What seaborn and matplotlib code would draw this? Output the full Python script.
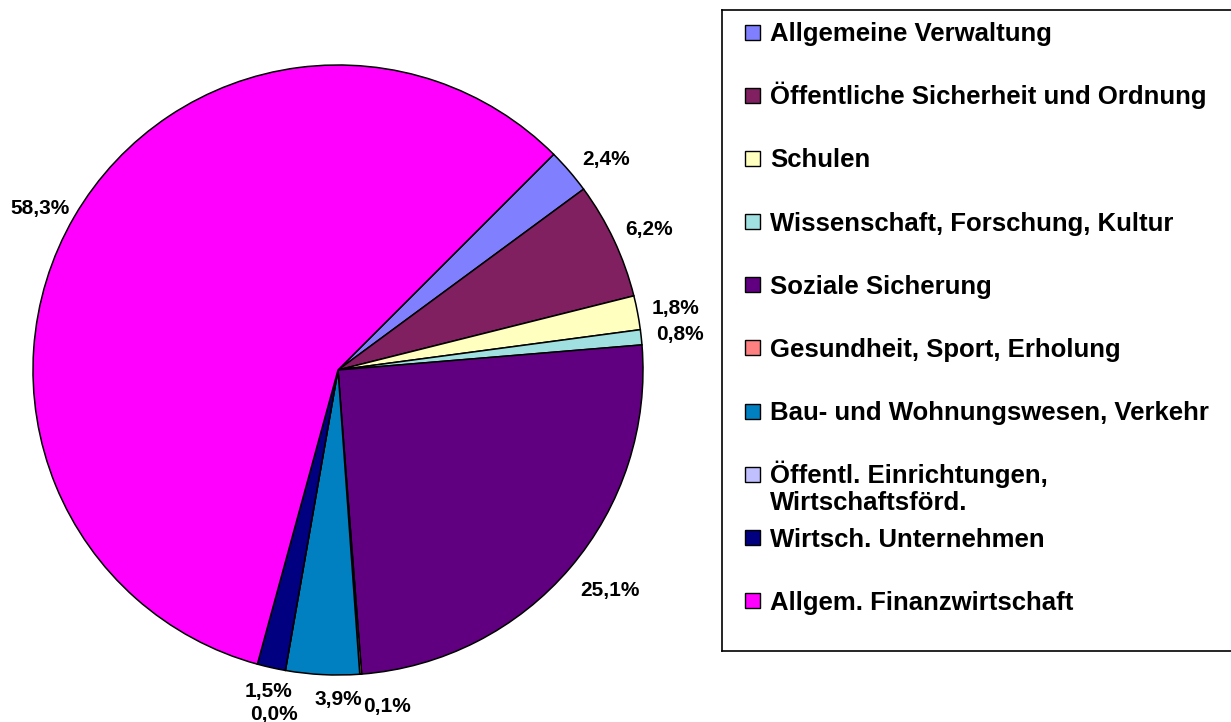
import matplotlib
matplotlib.use("Agg")
import numpy as np
import matplotlib.pyplot as plt
import seaborn as sns
from matplotlib.patches import Rectangle

# Haushaltsanteile nach Aufgabenbereichen (in %)
categories = [
    "Allgemeine Verwaltung",
    "Öffentliche Sicherheit und Ordnung",
    "Schulen",
    "Wissenschaft, Forschung, Kultur",
    "Soziale Sicherung",
    "Gesundheit, Sport, Erholung",
    "Bau- und Wohnungswesen, Verkehr",
    "Öffentl. Einrichtungen,\nWirtschaftsförd.",
    "Wirtsch. Unternehmen",
    "Allgem. Finanzwirtschaft",
]
shares = [2.4, 6.2, 1.8, 0.8, 25.1, 0.1, 3.9, 0.0, 1.5, 58.3]
colors = ["#8080FF", "#802060", "#FFFFC0", "#A0E0E0", "#600080",
          "#FF8080", "#0080C0", "#C0C0FF", "#000080", "#FF00FF"]
pct_labels = [f"{v:.1f}%".replace(".", ",") for v in shares]

sns.set_style("white")
plt.rcParams["font.family"] = ["Liberation Sans", "DejaVu Sans"]
plt.rcParams["text.color"] = "black"

W, H = 1231, 722
fig = plt.figure(figsize=(W / 100, H / 100), dpi=100)

# Kreisdiagramm
cx, cy, r = 338, 370, 305
ax = fig.add_axes([(cx - r) / W, (H - cy - r) / H, 2 * r / W, 2 * r / H])
wedges, texts = ax.pie(
    shares, labels=pct_labels, colors=colors, startangle=45, counterclock=False,
    labeldistance=1.1, wedgeprops=dict(edgecolor="black", linewidth=1.1),
    textprops=dict(fontsize=15, fontweight="bold", color="black"),
)
ax.set_xlim(-1, 1)
ax.set_ylim(-1, 1)
ax.set_aspect("equal")
ax.axis("off")

# Beschriftungen wie in Excel: Textkasten mit festem Abstand zum Kreisrand
fig.canvas.draw()
renderer = fig.canvas.get_renderer()
gap = 15 / r
for w, t in zip(wedges, texts):
    t.set_ha("center")
    t.set_va("center")
    bb = t.get_window_extent(renderer)
    tw, th = bb.width / r, bb.height / r
    a = np.deg2rad((w.theta1 + w.theta2) / 2)
    t.set_position(((1 + gap) * np.cos(a) + tw / 2 * np.cos(a),
                    (1 + gap) * np.sin(a) + th / 2 * np.sin(a)))

# kleine Segmente unten auseinanderziehen (Pixel)
nudges = {0: (7, -4), 4: (6, -7), 5: (23, -8), 6: (18, 0), 7: (-5, -20),
          8: (6, 0), 9: (4, -4)}
for i, (dx, dy) in nudges.items():
    x, y = texts[i].get_position()
    texts[i].set_position((x + dx / r, y + dy / r))

# Legende (Excel-Stil)
lx0, ly0, ly1 = 722, 10, 651
lax = fig.add_axes([lx0 / W, (H - ly1) / H, (W - lx0 + 5) / W, (ly1 - ly0) / H])
lax.set_xlim(lx0, W + 5)
lax.set_ylim(ly1, ly0)
lax.set_xticks([])
lax.set_yticks([])
for s in lax.spines.values():
    s.set_color("black")
    s.set_linewidth(1.2)

row0, step, line_h = 32, 63.2, 27
for i, (name, col) in enumerate(zip(categories, colors)):
    yc = row0 + i * step
    lax.add_patch(Rectangle((745, yc - 7.5), 15, 15, facecolor=col,
                            edgecolor="black", linewidth=1))
    for j, line in enumerate(name.split("\n")):
        lax.text(770, yc + 9 + j * line_h, line, fontsize=18.5,
                 fontweight="bold", va="baseline", ha="left")

fig.savefig("out.png", dpi=100)
